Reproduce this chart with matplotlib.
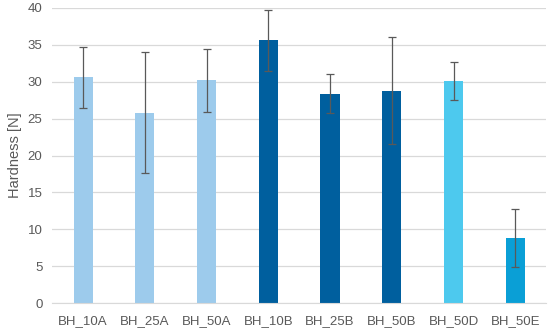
import matplotlib

matplotlib.use("Agg")
import matplotlib.pyplot as plt

samples = ["BH_10A", "BH_25A", "BH_50A", "BH_10B", "BH_25B", "BH_50B", "BH_50D", "BH_50E"]
hardness = [30.6, 25.8, 30.2, 35.6, 28.4, 28.8, 30.1, 8.8]
hardness_sd = [4.1, 8.2, 4.3, 4.1, 2.7, 7.2, 2.6, 3.9]
bar_colors = ["#9DCBEC", "#9DCBEC", "#9DCBEC", "#005F9E", "#005F9E", "#005F9E", "#4DC9EE", "#0A9FD6"]

plt.rcParams["font.family"] = ["Liberation Sans", "DejaVu Sans"]

fig = plt.figure(figsize=(5.5, 3.33), dpi=100)
ax = fig.add_axes([0.095, 0.09, 0.898, 0.886])

xs = range(len(samples))
ax.bar(xs, hardness, width=0.31, color=bar_colors, zorder=2)
ax.errorbar(xs, hardness, yerr=hardness_sd, fmt="none", ecolor="#595959",
            elinewidth=0.9, capsize=3, capthick=0.9, zorder=3)

ax.set_ylim(0, 40)
ax.set_yticks(range(0, 41, 5))
ax.set_xlim(-0.5, len(samples) - 0.5)
ax.set_xticks(list(xs))
ax.set_xticklabels(samples)
ax.yaxis.grid(True, color="#D9D9D9", linewidth=0.9, zorder=0)
ax.set_axisbelow(True)
for side in ["top", "right", "left"]:
    ax.spines[side].set_visible(False)
ax.spines["bottom"].set_color("#D9D9D9")
ax.tick_params(axis="both", length=0, labelsize=9.5, labelcolor="#595959")
ax.tick_params(axis="x", pad=9)
ax.tick_params(axis="y", pad=7)
ax.set_ylabel("Hardness [N]", fontsize=10.5, color="#595959", labelpad=4)

fig.savefig("out.png", dpi=100)
